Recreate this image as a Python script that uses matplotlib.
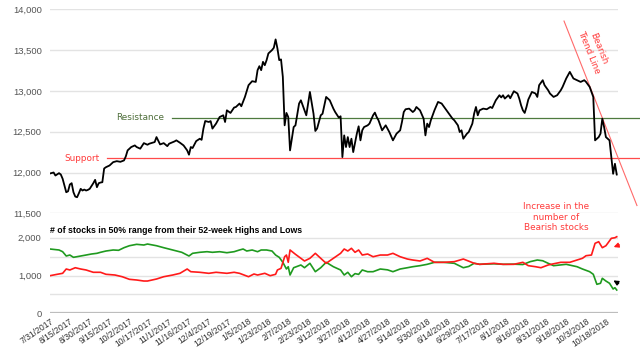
import matplotlib
matplotlib.use("Agg")
import matplotlib.pyplot as plt
from matplotlib.ticker import FixedLocator, FuncFormatter
from matplotlib.patches import FancyArrowPatch

# ---------------- data ----------------
tick_labels = ["7/31/2017", "8/15/2017", "8/30/2017", "9/15/2017", "10/2/2017", "10/17/2017",
               "11/1/2017", "11/16/2017", "12/4/2017", "12/19/2017", "1/5/2018", "1/23/2018",
               "2/7/2018", "2/23/2018", "3/12/2018", "3/27/2018", "4/12/2018", "4/27/2018",
               "5/14/2018", "5/30/2018", "6/14/2018", "6/29/2018", "7/17/2018", "8/1/2018",
               "8/16/2018", "8/31/2018", "9/18/2018", "10/3/2018", "10/18/2018"]
tick_step = 11          # trading days between labels
n_days = 315            # trading days shown

price_day = [0, 2, 3, 5, 6, 7, 9, 10, 11, 12, 13, 14, 15, 16, 17, 18, 19, 20, 21, 22, 24, 25, 26, 27, 28,
             29, 30, 31, 33, 35, 37, 39, 41, 42, 43, 45, 47, 48, 50, 52, 54, 55, 58, 59, 61, 63, 65, 66,
             69, 70, 72, 74, 76, 77, 78, 79, 81, 83, 84, 85, 86, 88, 89, 90, 92, 94, 96, 97, 98, 100,
             102, 103, 105, 106, 108, 110, 112, 114, 115, 116, 117, 118, 119, 120, 121, 123, 124, 125,
             126, 127, 128, 129, 130, 131, 132, 133, 135, 136, 138, 139, 141, 142, 144, 146, 147, 148,
             150, 151, 153, 155, 157, 158, 160, 161, 162, 163, 164, 165, 166, 167, 168, 170, 171, 172,
             173, 174, 176, 177, 179, 180, 181, 182, 184, 186, 188, 190, 192, 194, 195, 196, 197, 199,
             201, 202, 203, 205, 207, 208, 209, 210, 211, 213, 215, 217, 219, 221, 223, 224, 226, 227,
             228, 229, 231, 232, 234, 235, 236, 237, 238, 240, 242, 244, 245, 247, 249, 250, 251, 252,
             254, 255, 257, 259, 260, 261, 262, 263, 264, 265, 267, 269, 270, 271, 273, 274, 276, 277,
             279, 281, 283, 284, 286, 288, 289, 290, 292, 294, 296, 297, 299, 300, 301, 302, 304, 305,
             306, 307, 308, 310, 311, 312, 313, 314]
price = [11988, 12000, 11963, 11992, 11975, 11923, 11758, 11770, 11853, 11869, 11758, 11705, 11697, 11746,
         11800, 11779, 11791, 11779, 11787, 11800, 11869, 11910, 11820, 11869, 11877, 11881, 12049, 12065,
         12086, 12127, 12139, 12131, 12148, 12197, 12271, 12312, 12332, 12312, 12292, 12360, 12340, 12353,
         12373, 12434, 12344, 12360, 12323, 12353, 12381, 12394, 12365, 12332, 12271, 12218, 12312, 12300,
         12385, 12414, 12400, 12538, 12631, 12619, 12630, 12538, 12599, 12680, 12701, 12619, 12762, 12730,
         12796, 12803, 12845, 12812, 12926, 13070, 13119, 13110, 13254, 13303, 13254, 13356, 13315, 13377,
         13459, 13500, 13528, 13631, 13521, 13377, 13386, 13172, 12578, 12730, 12680, 12271, 12557, 12578,
         12845, 12885, 12762, 12701, 12987, 12720, 12509, 12540, 12701, 12720, 12926, 12885, 12783, 12741,
         12673, 12689, 12189, 12455, 12312, 12434, 12312, 12414, 12250, 12476, 12566, 12394, 12517, 12557,
         12578, 12599, 12701, 12734, 12680, 12640, 12517, 12578, 12496, 12394, 12476, 12517, 12619, 12741,
         12775, 12783, 12741, 12760, 12803, 12762, 12660, 12455, 12599, 12557, 12640, 12762, 12865, 12845,
         12783, 12722, 12660, 12640, 12578, 12496, 12517, 12414, 12476, 12496, 12599, 12722, 12803, 12701,
         12762, 12783, 12775, 12803, 12790, 12885, 12947, 12920, 12947, 12906, 12947, 12910, 12996, 12968,
         12906, 12824, 12762, 12730, 12803, 12894, 12987, 12968, 12926, 13070, 13131, 13070, 13008, 12968,
         12926, 12947, 13008, 13049, 13152, 13233, 13192, 13152, 13131, 13110, 13131, 13110, 13049, 12987,
         12926, 12394, 12434, 12476, 12660, 12557, 12434, 12394, 12189, 11984, 12107, 11975]

green_day = [0, 5, 7, 9, 11, 13, 17, 20, 23, 26, 28, 31, 35, 38, 41, 44, 48, 52, 54, 59, 63, 68, 73, 77,
             79, 83, 87, 90, 94, 98, 102, 105, 107, 109, 112, 115, 117, 120, 123, 125, 127, 129, 131,
             132, 133, 135, 139, 141, 144, 147, 150, 153, 157, 161, 163, 165, 167, 169, 171, 173, 176,
             179, 183, 187, 190, 194, 198, 201, 205, 209, 213, 218, 224, 229, 232, 235, 238, 246, 251,
             257, 262, 266, 270, 273, 276, 279, 286, 292, 295, 299, 301, 303, 305, 306, 308, 310, 312,
             313, 314]
green = [1701, 1675, 1630, 1516, 1542, 1481, 1516, 1542, 1569, 1587, 1614, 1648, 1675, 1667, 1736, 1788,
         1825, 1807, 1833, 1788, 1736, 1675, 1614, 1516, 1587, 1614, 1630, 1614, 1630, 1603, 1630, 1675,
         1701, 1648, 1675, 1630, 1675, 1675, 1648, 1542, 1481, 1349, 1172, 1233, 1013, 1206, 1278, 1206,
         1323, 1101, 1206, 1349, 1233, 1146, 1013, 1085, 968, 1050, 1030, 1146, 1100, 1101, 1172, 1150,
         1101, 1172, 1206, 1233, 1260, 1296, 1349, 1349, 1323, 1206, 1240, 1323, 1296, 1310, 1296, 1300,
         1290, 1366, 1410, 1390, 1323, 1260, 1296, 1233, 1172, 1101, 1032, 767, 794, 926, 854, 794, 643,
         677, 616]

red_day = [0, 4, 7, 9, 11, 14, 17, 20, 24, 28, 31, 36, 40, 44, 48, 52, 54, 59, 63, 68, 72, 76, 78, 83,
           88, 92, 98, 102, 105, 110, 113, 115, 119, 122, 125, 126, 128, 130, 131, 132, 133, 136, 139,
           141, 144, 147, 150, 153, 157, 161, 163, 165, 167, 169, 171, 173, 176, 179, 183, 187, 190, 194,
           198, 201, 205, 209, 213, 218, 224, 229, 232, 235, 238, 246, 251, 257, 262, 265, 269, 272, 276,
           279, 283, 288, 292, 295, 297, 300, 302, 304, 306, 308, 309, 311, 313, 314]
red = [995, 1032, 1058, 1172, 1146, 1206, 1172, 1146, 1085, 1085, 1032, 1013, 968, 899, 881, 854, 854,
       907, 968, 1013, 1058, 1172, 1101, 1085, 1058, 1085, 1058, 1085, 1058, 968, 1040, 1013, 1058, 995,
       1032, 1146, 1190, 1497, 1542, 1349, 1675, 1561, 1455, 1384, 1455, 1587, 1455, 1323, 1455, 1587,
       1701, 1648, 1720, 1614, 1675, 1542, 1569, 1497, 1542, 1542, 1587, 1497, 1436, 1410, 1384, 1455,
       1349, 1349, 1366, 1436, 1380, 1323, 1296, 1323, 1296, 1296, 1349, 1260, 1233, 1206, 1278, 1310,
       1349, 1349, 1410, 1455, 1524, 1542, 1852, 1894, 1736, 1788, 1852, 1984, 2000, 2026]

support_level = 12173
resistance_level = 12673

# ---------------- figure ----------------
W, H = 640, 350
fig = plt.figure(figsize=(W / 100, H / 100), dpi=100)
fig.patch.set_facecolor("white")

XMAX = 314.7
ax1 = fig.add_axes([50 / W, 1 - 213.3 / H, 568 / W, 204 / H])
ax2 = fig.add_axes([50 / W, 1 - 313.3 / H, 568 / W, 100 / H])

grid_col = "#e3e3e3"
lab_col = "#555555"
fname = "Liberation Sans"

# ---- top panel ----
ax1.set_xlim(0, XMAX)
ax1.set_ylim(11500, 14000)
ax1.set_yticks([11500, 12000, 12500, 13000, 13500, 14000])
ax1.yaxis.set_major_formatter(FuncFormatter(lambda v, p: f"{int(v):,}"))
ax1.grid(axis="y", color=grid_col, lw=1.0)
ax1.set_axisbelow(True)
ax1.set_xticks([])
for s in ax1.spines.values():
    s.set_visible(False)
ax1.tick_params(axis="y", length=0, pad=6, labelsize=6.8, labelcolor=lab_col)
for t in ax1.get_yticklabels():
    t.set_fontfamily(fname)
ax1.patch.set_alpha(0)

ax1.plot(price_day, price, color="black", lw=1.3, zorder=5)

# support / resistance lines extending past the plot
x_end = (640 - 50) / 1.805
ax1.plot([31.6, x_end], [support_level, support_level], color="#ff4a4a", lw=0.9, clip_on=False, zorder=3)
ax1.plot([67.6, x_end], [resistance_level, resistance_level], color="#4e7a3e", lw=0.9, clip_on=False, zorder=3)
ax1.text(27.5, support_level, "Support", color="#ff3b3b", fontsize=6.4, ha="right", va="center")
ax1.text(63.5, resistance_level, "Resistance", color="#4e6e3a", fontsize=6.4, ha="right", va="center")

# bearish trend line
ax1.plot([284.8, 325.2], [13856, 11595], color="#ff6a6a", lw=0.8, clip_on=False, zorder=4)
ax1.text(301.4, 13500, "Bearish\nTrend Line", color="#ff3b3b", fontsize=6.4, rotation=-68,
         ha="center", va="center", multialignment="center", rotation_mode="anchor")

# ---- bottom panel ----
ax2.set_xlim(0, XMAX)
ax2.set_ylim(0, 2646)
ax2.yaxis.set_major_locator(FixedLocator([0, 1000, 2000]))
ax2.yaxis.set_minor_locator(FixedLocator([500, 1500]))
ax2.yaxis.set_major_formatter(FuncFormatter(lambda v, p: f"{int(v):,}"))
ax2.grid(axis="y", which="both", color=grid_col, lw=1.0)
ax2.axhline(0, color="#bdbdbd", lw=1.6, zorder=2)
ax2.set_axisbelow(True)
for s in ax2.spines.values():
    s.set_visible(False)
ax2.tick_params(axis="y", which="both", length=0, pad=6, labelsize=6.8, labelcolor=lab_col)
ax2.patch.set_alpha(0)

ticks = [i * tick_step for i in range(len(tick_labels))]
ax2.set_xticks(ticks)
ax2.set_xticklabels(tick_labels, rotation=34, ha="right", va="top", rotation_mode="anchor",
                    fontsize=6.2, color="#333333", fontfamily=fname)
ax2.tick_params(axis="x", length=0, pad=2.5)
for t in ax2.get_yticklabels():
    t.set_fontfamily(fname)

ax2.plot(green_day, green, color="#1f9a1f", lw=1.2, zorder=5)
ax2.plot(red_day, red, color="#ff1a1a", lw=1.2, zorder=6)

ax2.text(0, 2204, "# of stocks in 50% range from their 52-week Highs and Lows", fontsize=6.3,
         fontweight="bold", ha="left", va="center", color="black", fontfamily=fname)
ax2.text(280.3, 2548, "Increase in the\nnumber of\nBearish stocks", color="#ff3b3b", fontsize=6.4,
         ha="center", va="center", multialignment="center", linespacing=1.15)

# small arrows at the right end of the breadth lines
fig.add_artist(FancyArrowPatch((622, H - 244), (611, H - 248),
               transform=None, arrowstyle="-|>", mutation_scale=7, color="#ff1a1a", lw=1.0))
fig.add_artist(FancyArrowPatch((621, H - 285), (611, H - 279),
               transform=None, arrowstyle="-|>", mutation_scale=7, color="black", lw=1.0))

fig.savefig("out.png", dpi=100, facecolor="white")
